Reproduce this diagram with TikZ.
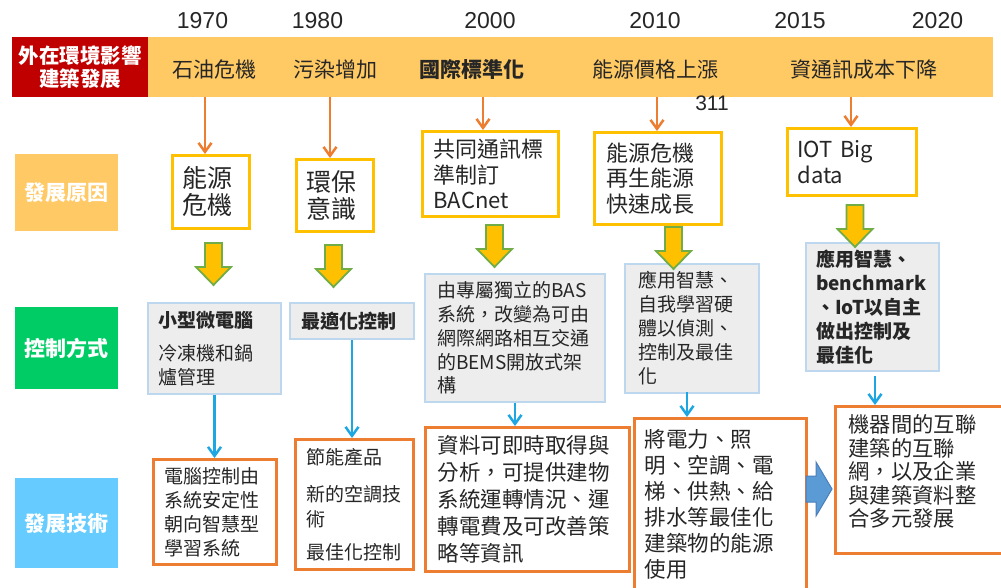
\documentclass[tikz,border=0pt]{standalone}
\usepackage{fontspec}
\setmainfont{Noto Sans CJK TC}
\newfontfamily\yearfont{Liberation Sans}
\usetikzlibrary{arrows.meta}
\definecolor{bandor}{HTML}{FFC963}
\definecolor{darkred}{HTML}{C00000}
\definecolor{labor}{HTML}{FFC966}
\definecolor{lgreen}{HTML}{00CC66}
\definecolor{lblue}{HTML}{66CCFF}
\definecolor{ybord}{HTML}{FFC000}
\definecolor{obord}{HTML}{ED7D31}
\definecolor{gbord}{HTML}{BDD7EE}
\definecolor{gfill}{HTML}{EDEDED}
\definecolor{arrgreen}{HTML}{70AD47}
\definecolor{barr}{HTML}{1DA6E2}
\definecolor{blockblue}{HTML}{5B9BD5}
\definecolor{blockedge}{HTML}{4A7EBB}
\definecolor{txt}{HTML}{262626}
\tikzset{
  year/.style={font=\yearfont\fontsize{23}{26}\selectfont, text=txt, inner sep=0pt},
  bandtxt/.style={font=\fontsize{21}{24}\selectfont, text=txt, inner sep=0pt},
  lab/.style={text=white, font=\bfseries\fontsize{21}{24}\selectfont, minimum width=103pt, anchor=north west, inner sep=0pt},
  anybox/.style={anchor=north west, inner xsep=10pt, inner ysep=0pt, align=left, text=txt},
  ybox/.style={anybox, draw=ybord, line width=3pt, fill=white},
  gbox/.style={anybox, draw=gbord, line width=2pt, fill=gfill},
  obox/.style={anybox, draw=obord, line width=3pt, fill=white},
  oarr/.style={draw=obord, line width=2.5pt, -{Straight Barb[length=9pt,width=13pt]}},
  barrow/.style={draw=barr, line width=2.5pt, -{Straight Barb[length=9pt,width=13pt]}},
  fatdown/.pic={\draw[fill=ybord, draw=arrgreen, line width=1.8pt, line join=miter]
     (-8.5,0) -- (8.5,0) -- (8.5,24) -- (17.5,24) -- (0,42) -- (-17.5,24) -- (-8.5,24) -- cycle;},
  f25/.style={font=\fontsize{25}{27}\selectfont},
  f22/.style={font=\fontsize{22}{25.5}\selectfont},
  f19/.style={font=\fontsize{19}{24}\selectfont},
  f21/.style={font=\fontsize{21.5}{26.5}\selectfont},
}
\begin{document}
\begin{tikzpicture}[x=1pt,y=-1pt]
\fill[white] (0,0) rectangle (1001,588);
\useasboundingbox (0,0) rectangle (1001,588);

% years
\node[year] (y1970) at (202.5,20.5) {1970};
\node[year] (y1980) at (317.5,20.5) {1980};
\node[year] (y2000) at (490,20.5) {2000};
\node[year] (y2010) at (655,20.5) {2010};
\node[year] (y2015) at (800,20.5) {2015};
\node[year] (y2020) at (937.5,20.5) {2020};

% band
\node[fill=bandor, minimum width=845pt, minimum height=60pt, anchor=north west, inner sep=0pt] (band) at (148,37) {};
\node[fill=darkred, minimum width=136pt, minimum height=60pt, anchor=north west, inner sep=0pt, align=center, text=white, font=\bfseries\fontsize{20.5}{23}\selectfont] (ext) at (12,37) {外在環境影響\\建築發展};
\node[bandtxt] (e1) at (214,70) {石油危機};
\node[bandtxt] (e2) at (335,70) {污染增加};
\node[bandtxt, font=\bfseries\fontsize{21}{24}\selectfont] (e3) at (472,70) {國際標準化};
\node[bandtxt] (e4) at (655,70) {能源價格上漲};
\node[bandtxt] (e5) at (864,70) {資通訊成本下降};
\node[font=\yearfont\fontsize{21}{24}\selectfont, text=txt, inner sep=0pt] (n311) at (712,103.5) {311};

% row labels
\node[lab, fill=labor, minimum height=77pt] (l1) at (15,154) {發展原因};
\node[lab, fill=lgreen, minimum height=82pt] (l2) at (15,307) {控制方式};
\node[lab, fill=lblue, minimum height=90pt] (l3) at (15,478) {發展技術};

% causes
\node[ybox, f25, text width=57pt, minimum width=77pt, minimum height=73pt] (c1) at (171,154) {能源\\危機};
\node[ybox, f25, text width=57pt, minimum width=77pt, minimum height=72pt] (c2) at (295,158) {環保\\意識};
\node[ybox, f22, inner xsep=11pt, text width=114pt, minimum width=136pt, minimum height=85pt] (c3) at (421,130) {共同通訊標\\準制訂\\BACnet};
\node[ybox, f22, inner xsep=12pt, text width=103pt, minimum width=127pt, minimum height=92pt] (c4) at (593,131) {能源危機\\再生能源\\快速成長};
\node[ybox, f22, inner xsep=10pt, text width=109pt, minimum width=129pt, minimum height=67pt] (c5) at (786,127) {IOT Big\\data};

% control
\node[gbox, f19, text width=113pt, minimum width=133pt, minimum height=91pt] (g1) at (147,302) {\textbf{小型微電腦}\\[9pt]冷凍機和鍋\\爐管理};
\node[gbox, f19, inner xsep=11pt, text width=102pt, minimum width=124pt, minimum height=36pt] (g2) at (289,302) {\textbf{最適化控制}};
\node[gbox, font=\fontsize{19}{23.75}\selectfont, inner xsep=12pt, text width=156pt, minimum width=180pt, minimum height=128pt] (g3) at (424,273) {由專屬獨立的BAS\\系統，改變為可由\\網際網路相互交通\\的BEMS開放式架\\構};
\node[gbox, f19, inner xsep=13pt, text width=108pt, minimum width=134pt, minimum height=129pt] (g4) at (624,263) {應用智慧、\\自我學習硬\\體以偵測、\\控制及最佳\\化};
\node[gbox, font=\bfseries\fontsize{19}{24}\selectfont, text width=113pt, minimum width=133pt, minimum height=128pt] (g5) at (805,242) {應用智慧、\\benchmark\\、IoT以自主\\做出控制及\\最佳化};

% technology
\node[obox, f19, inner xsep=11pt, text width=101pt, minimum width=123pt, minimum height=105pt] (o1) at (152,458) {電腦控制由\\系統安定性\\朝向智慧型\\學習系統};
\node[obox, font=\fontsize{19}{25}\selectfont, inner xsep=11pt, text width=96pt, minimum width=118pt, minimum height=130pt] (o2) at (294,438) {節能產品\\[12pt]新的空調技\\術\\[8pt]最佳化控制};
\node[obox, font=\fontsize{21.5}{27}\selectfont, inner xsep=12pt, text width=180pt, minimum width=204pt, minimum height=144pt] (o3) at (424,426) {資料可即時取得與\\分析，可提供建物\\系統運轉情況、運\\轉電費及可改善策\\略等資訊};
\node[obox, font=\fontsize{21.5}{26}\selectfont, inner xsep=10pt, text width=152pt, minimum width=172pt, minimum height=172pt] (o4) at (633,417) {將電力、照\\明、空調、電\\梯、供熱、給\\排水等最佳化\\建築物的能源\\使用};
\node[obox, font=\fontsize{21.3}{23.5}\selectfont, inner xsep=13pt, text width=154pt, minimum width=180pt, minimum height=147pt] (o5) at (834,405) {機器間的互聯\\建築的互聯\\網，以及企業\\與建築資料整\\合多元發展\par\vspace*{17pt}};

% orange arrows from band
\coordinate (a1) at (205,97);
\coordinate (a2) at (330,97);
\coordinate (a3) at (483,97);
\coordinate (a4) at (657,97);
\coordinate (a5) at (851,97);
\draw[oarr] (a1) -- (a1 |- c1.north);
\draw[oarr] (a2) -- (a2 |- c2.north);
\draw[oarr] (a3) -- (a3 |- c3.north);
\draw[oarr] (a4) -- (a4 |- c4.north);
\draw[oarr] (a5) -- (a5 |- c5.north);

% fat yellow arrows
\pic at (213.5,243) {fatdown};
\pic at (333.5,245) {fatdown};
\pic at (494.5,225) {fatdown};
\pic at (673.5,227) {fatdown};
\pic at (855,205) {fatdown};

% blue connectors
\draw[barrow] (g1.south) -- (g1.south |- o1.north);
\draw[barrow] (g2.south) -- (g2.south |- o2.north);
\draw[barrow] (g3.south) -- (g3.south |- o3.north);
\coordinate (b4) at (687,392);
\draw[barrow] (b4) -- (b4 |- o4.north);
\coordinate (b5) at (875,376);
\draw[barrow] (b5) -- (b5 |- o5.north);

% block arrow
\draw[fill=blockblue, draw=blockedge, line width=1pt, line join=miter]
  (806,476) -- (816,476) -- (816,462) -- (832,489) -- (816,516) -- (816,502) -- (806,502) -- cycle;
\end{tikzpicture}
\end{document}
